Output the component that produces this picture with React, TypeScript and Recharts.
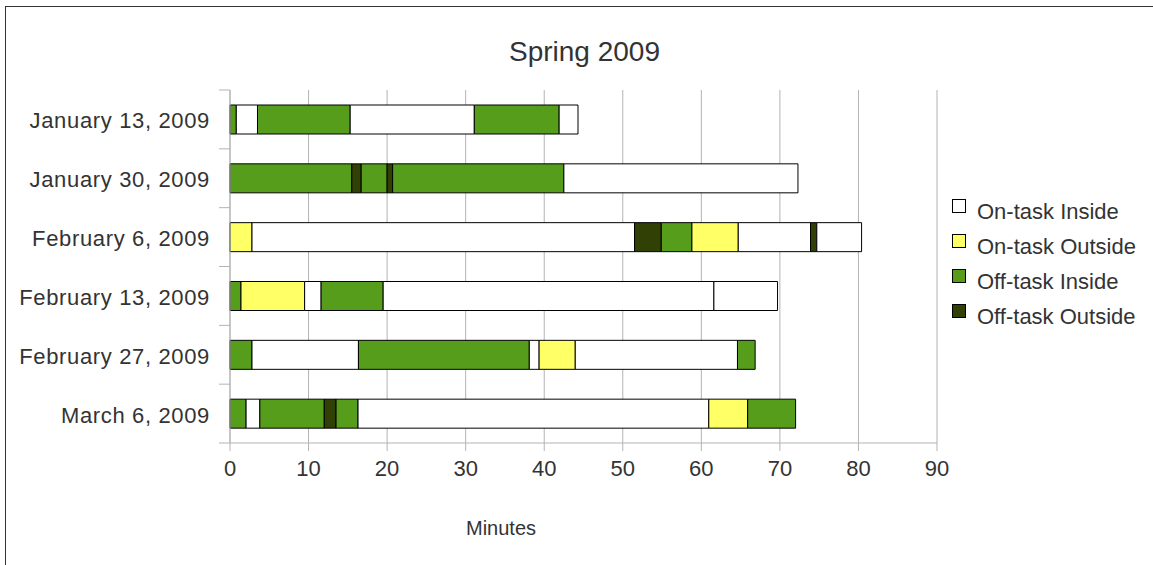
import React from 'react';
import { BarChart, Bar, XAxis, YAxis, CartesianGrid, Cell } from 'recharts';

// ---- data ----
const categories = [
  'January 13, 2009',
  'January 30, 2009',
  'February 6, 2009',
  'February 13, 2009',
  'February 27, 2009',
  'March 6, 2009',
];

// activity types: 0 On-task Inside, 1 On-task Outside, 2 Off-task Inside, 3 Off-task Outside
const typeLabels = ['On-task Inside', 'On-task Outside', 'Off-task Inside', 'Off-task Outside'];
const typeColors = ['#ffffff', '#ffff66', '#579d1c', '#314004'];

// consecutive segment durations (minutes) and their types, per session
const jan13Minutes = [0.8, 2.7, 11.8, 15.8, 10.8, 2.4];
const jan13Types = [2, 0, 2, 0, 2, 0];

const jan30Minutes = [15.5, 1.2, 3.3, 0.7, 21.8, 29.8];
const jan30Types = [2, 3, 2, 3, 2, 0];

const feb6Minutes = [2.8, 48.7, 3.4, 3.9, 5.9, 9.2, 0.8, 5.7];
const feb6Types = [1, 0, 3, 2, 1, 0, 3, 0];

const feb13Minutes = [1.4, 8.1, 2.1, 7.9, 42.1, 8.1];
const feb13Types = [2, 1, 0, 2, 0, 0];

const feb27Minutes = [2.8, 13.55, 21.75, 1.25, 4.6, 20.65, 2.25];
const feb27Types = [2, 0, 2, 0, 1, 0, 2];

const mar6Minutes = [2.05, 1.75, 8.2, 1.5, 2.8, 44.65, 4.95, 6.1];
const mar6Types = [2, 0, 2, 3, 2, 0, 1, 2];

const xTicks = [0, 10, 20, 30, 40, 50, 60, 70, 80, 90];

const sessionMinutes = [jan13Minutes, jan30Minutes, feb6Minutes, feb13Minutes, feb27Minutes, mar6Minutes];
const sessionTypes = [jan13Types, jan30Types, feb6Types, feb13Types, feb27Types, mar6Types];

const maxSegments = Math.max(...sessionMinutes.map((m) => m.length));
const segKeys = Array.from({ length: maxSegments }, (_, k) => `s${k}`);

const data = categories.map((date, i) => {
  const row: Record<string, any> = { date };
  sessionMinutes[i].forEach((v, k) => {
    row[`s${k}`] = v;
  });
  return row;
});

// ---- layout ----
const W = 1153;
const H = 565;
const M = { top: 90, right: 216, bottom: 82, left: 0 };
const Y_AXIS_W = 230;
const X_AXIS_H = 40;
const PLOT_H = H - M.top - M.bottom - X_AXIS_H;
const BAND = PLOT_H / categories.length;
const FONT = '"Liberation Sans", Arial, sans-serif';
const TEXT = '#333333';
const GRID = '#b3b3b3';

const YTick = (props: any) => {
  const { y, index, payload } = props;
  const ax = Y_AXIS_W;
  return (
    <g>
      <line x1={ax - 11} x2={ax} y1={y - BAND / 2} y2={y - BAND / 2} stroke={GRID} strokeWidth={1} />
      {index === categories.length - 1 && (
        <line x1={ax - 11} x2={ax} y1={y + BAND / 2} y2={y + BAND / 2} stroke={GRID} strokeWidth={1} />
      )}
      <text x={ax - 20} y={y} dy={9} textAnchor="end" fill={TEXT} fontSize={22} fontFamily={FONT} letterSpacing={0.65}>
        {payload.value}
      </text>
    </g>
  );
};

export default function App() {
  return (
    <div style={{ position: 'absolute', left: 0, top: 0, width: W, height: H, overflow: 'hidden', background: '#fff', fontFamily: FONT }}>
      <div style={{ position: 'absolute', left: 5, top: 6, width: 1300, height: 700, border: '1.5px solid #333' }} />
      <div style={{ position: 'absolute', left: 584.5, top: 38, transform: 'translateX(-50%)', fontSize: 28, lineHeight: 1, color: TEXT, whiteSpace: 'nowrap' }}>
        Spring 2009
      </div>
      <div style={{ position: 'absolute', left: 501, top: 518, transform: 'translateX(-50%)', fontSize: 20, lineHeight: 1, color: TEXT, whiteSpace: 'nowrap' }}>
        Minutes
      </div>
      <div style={{ position: 'absolute', left: 0, top: 0 }}>
        <BarChart width={W} height={H} data={data} layout="vertical" margin={M} barSize={29}>
          <CartesianGrid horizontal={false} vertical={true} stroke={GRID} strokeWidth={1} />
          <XAxis
            type="number"
            domain={[0, 90]}
            ticks={xTicks}
            interval={0}
            height={X_AXIS_H}
            tickSize={8}
            tickMargin={9}
            axisLine={{ stroke: GRID }}
            tickLine={{ stroke: GRID }}
            tick={{ fill: TEXT, fontSize: 22, fontFamily: FONT }}
          />
          <XAxis
            xAxisId="top"
            orientation="top"
            type="number"
            domain={[0, 90]}
            height={0}
            tick={false}
            tickLine={false}
            axisLine={{ stroke: GRID }}
          />
          <YAxis
            type="category"
            dataKey="date"
            width={Y_AXIS_W}
            tickLine={false}
            axisLine={{ stroke: GRID }}
            tick={<YTick />}
            interval={0}
          />
          {segKeys.map((key, k) => (
            <Bar key={key} dataKey={key} stackId="a" isAnimationActive={false} stroke="#000" strokeWidth={1}>
              {data.map((_, i) => (
                <Cell key={`c${i}`} fill={typeColors[sessionTypes[i][k] ?? 0]} />
              ))}
            </Bar>
          ))}
        </BarChart>
      </div>
      <div style={{ position: 'absolute', left: 952, top: 194 }}>
        {typeLabels.map((label, i) => (
          <div key={label} style={{ display: 'flex', alignItems: 'flex-start', height: 35, lineHeight: '35px' }}>
            <div style={{ width: 12, height: 12, marginTop: 5, border: '1px solid #000', background: typeColors[i] }} />
            <div style={{ marginLeft: 11, fontSize: 22, color: TEXT, whiteSpace: 'nowrap' }}>{label}</div>
          </div>
        ))}
      </div>
    </div>
  );
}
